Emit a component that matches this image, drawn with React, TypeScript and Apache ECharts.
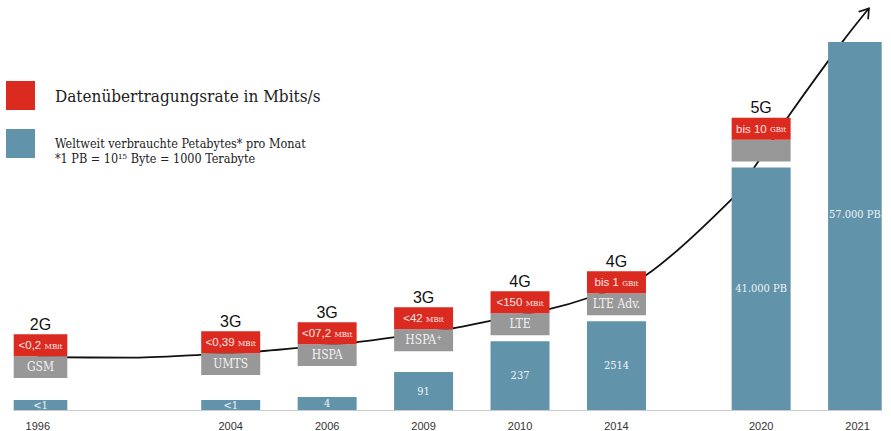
import React, { useEffect, useRef } from "react";
import * as echarts from "echarts";

// ---- data ----
const years = ["1996", "2004", "2006", "2009", "2010", "2014", "2020", "2021"];
// position of each year on an evenly spaced slot axis (gaps between years)
const yearSlot = [0, 4, 6, 8, 10, 12, 15, 17];
const slotCount = 18;
// visual bar heights (schematic, not to scale) and their labels
const petabyteHeight = [10, 10, 13, 38, 69, 89, 243, 369];
const petabyteLabel = ["<1", "<1", "4", "91", "237", "2514", "41.000 PB", "57.000 PB"];
// free space between the blue bar and the technology box
const boxGap = [22, 25, 31, 21, 6, 6, 6, null];
const technology = ["GSM", "UMTS", "HSPA", "HSPA⁺", "LTE", "LTE Adv.", "", null];
const rateValue = ["<0,2", "<0,39", "<07,2", "<42", "<150", "bis 1", "bis 10", null];
const rateUnit = ["MBit", "MBit", "MBit", "MBit", "MBit", "GBit", "GBit", null];
const generation = ["2G", "3G", "3G", "3G", "4G", "4G", "5G", null];
const techBoxHeight = 22;
const rateBoxHeight = 22;
// growth curve (x in slots, y in bar-height units)
const curveX = [0, 1.9, 3.36, 4.59, 5.35, 6.58, 7.37, 8.59, 9.38, 10.6, 11.39, 12.61, 14.4, 14.87, 15.56, 16.7, 17.24];
const curveY = [53, 52.5, 55.3, 58.7, 62, 67.7, 72.7, 81.7, 89.3, 101, 112, 135, 212, 244, 294, 370, 403];

const legendRate = "Datenübertragungsrate in Mbits/s";
const legendVolume = "Weltweit verbrauchte Petabytes* pro Monat";
const legendNote = "*1 PB = 10¹⁵ Byte = 1000 Terabyte";

const RED = "#db2a1f";
const GRAY = "#989898";
const BLUE = "#6194ab";
const SLAB = '"DejaVu Serif Condensed", "DejaVu Serif", serif';
const SANS = '"Liberation Sans", Arial, sans-serif';

export default function App() {
  const ref = useRef<HTMLDivElement>(null);

  useEffect(() => {
    document.body.style.margin = "0";
    if (!ref.current) return;
    const chart = echarts.init(ref.current, null, { renderer: "svg" });

    const categories: string[] = Array(slotCount).fill("");
    years.forEach((y, i) => (categories[yearSlot[i]] = y));

    const perSlot = (fn: (i: number) => any) => {
      const arr: any[] = Array(slotCount).fill("-");
      years.forEach((_, i) => (arr[yearSlot[i]] = fn(i)));
      return arr;
    };

    const blueData = perSlot((i) => ({
      value: petabyteHeight[i],
      label: { formatter: petabyteLabel[i], offset: i === 7 ? [0, -11] : [0, 0] },
    }));
    const gapData = perSlot((i) => (boxGap[i] == null ? "-" : boxGap[i]));
    const techData = perSlot((i) =>
      technology[i] == null ? "-" : { value: techBoxHeight, label: { formatter: technology[i] } }
    );
    const rateData = perSlot((i) =>
      rateValue[i] == null
        ? "-"
        : { value: rateBoxHeight, label: { formatter: `{v|${rateValue[i]}} {u|${rateUnit[i]}}` } }
    );
    const genData = perSlot((i) =>
      generation[i] == null ? "-" : { value: 0, label: { formatter: generation[i] } }
    );

    const curveData = curveX.map((x, i) => {
      if (i === curveX.length - 1) {
        return {
          value: [x, curveY[i]],
          symbol: "path://M0,10 L6,0 L12,10",
          symbolSize: [12, 9],
          symbolRotate: -38,
          symbolOffset: [-3, 4],
          itemStyle: { color: "none", borderColor: "#111", borderWidth: 1.6 },
        };
      }
      return { value: [x, curveY[i]], symbol: "none" };
    });

    const barW = 59;

    chart.setOption({
      animation: false,
      grid: { left: 13.7, right: 9.3, top: 0, bottom: 20 },
      xAxis: [
        {
          type: "category",
          data: categories,
          axisTick: { show: false },
          axisLine: { lineStyle: { color: "#cccccc", width: 1 } },
          axisLabel: { interval: 0, color: "#333", fontSize: 11, fontFamily: SANS, margin: 10 },
        },
        { type: "value", min: -0.5, max: slotCount - 0.5, show: false },
      ],
      yAxis: { type: "value", min: 0, max: 411, show: false },
      series: [
        {
          type: "line",
          xAxisIndex: 1,
          data: curveData,
          smooth: 0.3,
          showSymbol: true,
          z: 1,
          silent: true,
          lineStyle: { color: "#111", width: 1.8 },
        },
        {
          type: "bar",
          name: "Petabytes",
          stack: "s",
          barWidth: barW,
          data: blueData,
          itemStyle: { color: BLUE },
          z: 3,
          label: { show: true, position: "inside", color: "#eef3f6", fontSize: 11, fontFamily: SLAB },
        },
        {
          type: "bar",
          stack: "s",
          barWidth: barW,
          data: gapData,
          itemStyle: { color: "rgba(0,0,0,0)" },
          z: 3,
        },
        {
          type: "bar",
          name: "Technologie",
          stack: "s",
          barWidth: barW,
          data: techData,
          itemStyle: { color: GRAY },
          z: 3,
          label: { show: true, position: "inside", color: "#f2f2f2", fontSize: 12, fontFamily: SLAB },
        },
        {
          type: "bar",
          name: "Datenrate",
          stack: "s",
          barWidth: barW,
          data: rateData,
          itemStyle: { color: RED },
          z: 3,
          label: {
            show: true,
            position: "inside",
            rich: {
              v: { color: "#fbe9e7", fontSize: 11.5, fontFamily: SANS },
              u: { color: "#fbe9e7", fontSize: 8, fontFamily: SLAB, padding: [2, 0, 0, 0] },
            },
          },
        },
        {
          type: "bar",
          stack: "s",
          barWidth: barW,
          data: genData,
          itemStyle: { color: "rgba(0,0,0,0)" },
          z: 3,
          label: { show: true, position: "top", distance: 2, color: "#111", fontSize: 16, fontFamily: SANS },
        },
      ],
      graphic: [
        { type: "rect", shape: { x: 6, y: 81, width: 29, height: 29 }, style: { fill: RED } },
        { type: "rect", shape: { x: 6, y: 129, width: 29, height: 29 }, style: { fill: BLUE } },
        {
          type: "text",
          x: 55,
          y: 96,
          style: { text: legendRate, fontSize: 17, fontFamily: SLAB, fill: "#222", verticalAlign: "middle" },
        },
        {
          type: "text",
          x: 55,
          y: 143,
          style: { text: legendVolume, fontSize: 12.5, fontFamily: SLAB, fill: "#222", verticalAlign: "middle" },
        },
        {
          type: "text",
          x: 55,
          y: 158.5,
          style: { text: legendNote, fontSize: 12.5, fontFamily: SLAB, fill: "#222", verticalAlign: "middle" },
        },
      ],
    });

    return () => chart.dispose();
  }, []);

  return <div ref={ref} style={{ width: 891, height: 431 }} />;
}
